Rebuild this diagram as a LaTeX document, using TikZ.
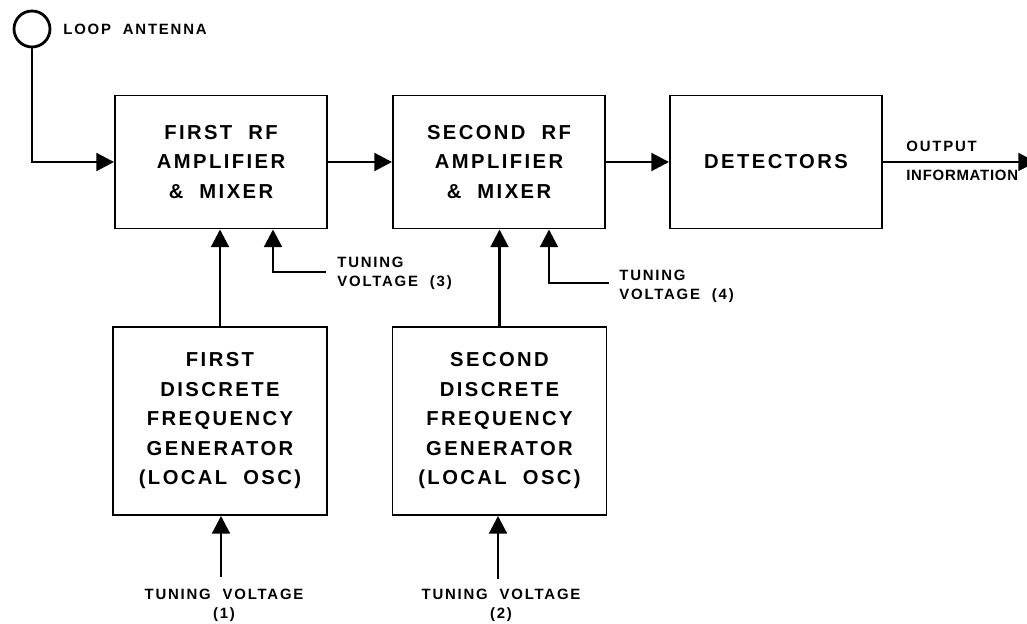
\documentclass[tikz,border=0pt]{standalone}
\usepackage{fontspec}
\setmainfont{Liberation Sans}[LetterSpace=12,WordSpace=2]
\usetikzlibrary{arrows.meta}
\newcommand{\boxfont}{\fontsize{11.5}{16.8}\selectfont\bfseries}
\newcommand{\lblfont}{\fontsize{8.5}{11}\selectfont\bfseries}
\begin{document}
\begin{tikzpicture}[x=0.02cm,y=0.02cm,
  upbox/.style={draw,line width=1.1pt,minimum width=4.24cm,minimum height=2.66cm,inner sep=0pt,align=center,font=\boxfont},
  lowbox/.style={draw,line width=1.1pt,minimum width=4.28cm,minimum height=3.76cm,inner sep=0pt,align=center,font=\boxfont},
  lbl/.style={inner sep=0pt,font=\lblfont},
  wire/.style={line width=1.6pt,-{Triangle[length=10pt,width=10pt]}}]
\useasboundingbox (0,0) rectangle (1027,624);

\node[draw,circle,line width=1.6pt,minimum size=0.72cm,inner sep=0pt] (ant) at (32,595) {};
\node[lbl,anchor=west] (antlbl) at (63,595) {LOOP ANTENNA};

\node[upbox] (rf1) at (221,462) {FIRST RF\\AMPLIFIER\\\& MIXER};
\node[upbox] (rf2) at (499,462) {SECOND RF\\AMPLIFIER\\\& MIXER};
\node[upbox] (det) at (776,462) {DETECTORS};

\node[lowbox] (osc1) at (220,203) {FIRST\\DISCRETE\\FREQUENCY\\GENERATOR\\(LOCAL OSC)};
\node[lowbox] (osc2) at (499.5,203) {SECOND\\DISCRETE\\FREQUENCY\\GENERATOR\\(LOCAL OSC)};

\draw[wire] (ant.south) |- (rf1.west);
\draw[wire] (rf1.east) -- (rf2.west);
\draw[wire] (rf2.east) -- (det.west);
\coordinate (out) at (1036,462);
\draw[wire] (det.east) -- (out);
\node[lbl,anchor=west] (outlbl) at (906,478) {OUTPUT};
\node[lbl,anchor=west] (infolbl) at (906,449) {\addfontfeature{LetterSpace=5}INFORMATION};

\draw[wire] (osc1.north) -- (osc1.north |- rf1.south);
\draw[wire] (osc2.north) -- (osc2.north |- rf2.south);

\coordinate (tv3) at (326,352);
\draw[wire] (tv3) -| ([xshift=1.04cm]rf1.south);
\node[lbl,anchor=west,align=left] (tv3lbl) at (337,350.5) {TUNING\\VOLTAGE (3)};

\coordinate (tv4) at (609,341);
\draw[wire] (tv4) -| ([xshift=1cm]rf2.south);
\node[lbl,anchor=west,align=left] (tv4lbl) at (619,337.5) {TUNING\\VOLTAGE (4)};

\coordinate (tv1) at (221,47);
\draw[wire] (tv1) -- (tv1 |- osc1.south);
\node[lbl,align=center] (tv1lbl) at (224,18.5) {TUNING VOLTAGE\\(1)};

\coordinate (tv2) at (498,45);
\draw[wire] (tv2) -- (tv2 |- osc2.south);
\node[lbl,align=center] (tv2lbl) at (501,18.5) {TUNING VOLTAGE\\(2)};
\end{tikzpicture}
\end{document}
